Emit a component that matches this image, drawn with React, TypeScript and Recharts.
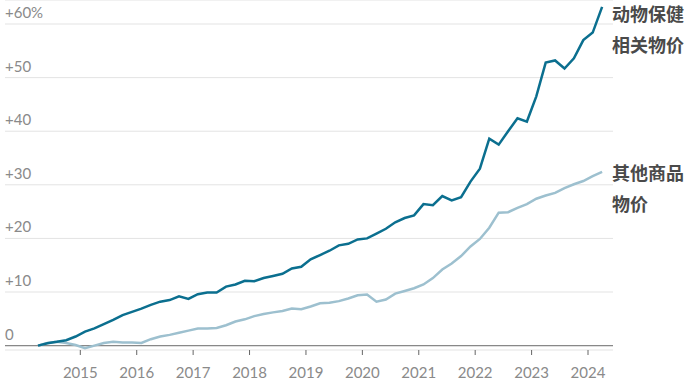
import { CartesianGrid, Line, LineChart, ReferenceLine, XAxis, YAxis } from 'recharts';

// bimonthly points, Apr 2014 .. Apr 2024
const dates = Array.from({ length: 61 }, (_, i) => {
  const m = 3 + i * 2; // months since Jan 2014
  return `${2014 + Math.floor(m / 12)}-${String((m % 12) + 1).padStart(2, '0')}`;
});

const petPrices = [
  0.0, 0.45, 0.7, 1.0, 1.7, 2.6, 3.2, 4.0, 4.8, 5.7, 6.3, 6.9,
  7.6, 8.2, 8.5, 9.2, 8.7, 9.6, 9.9, 9.9, 11.0, 11.4, 12.1, 12.0,
  12.6, 13.0, 13.4, 14.4, 14.7, 16.1, 16.9, 17.7, 18.7, 19.0, 19.8, 20.0,
  20.9, 21.8, 23.0, 23.8, 24.3, 26.4, 26.2, 27.9, 27.1, 27.7, 30.6, 33.0,
  38.6, 37.5, 40.0, 42.4, 41.8, 46.5, 52.8, 53.2, 51.7, 53.6, 57.0, 58.4,
  63.2,
];

const otherPrices = [
  0.0, 0.5, 0.7, 0.5, 0.1, -0.5, 0.0, 0.5, 0.7, 0.6, 0.6, 0.5,
  1.2, 1.7, 2.0, 2.4, 2.8, 3.2, 3.2, 3.3, 3.8, 4.5, 4.9, 5.5,
  5.9, 6.2, 6.45, 6.9, 6.8, 7.3, 7.9, 8.0, 8.3, 8.8, 9.4, 9.55,
  8.2, 8.6, 9.7, 10.2, 10.7, 11.4, 12.6, 14.2, 15.3, 16.7, 18.5, 19.9,
  22.0, 24.8, 24.9, 25.7, 26.4, 27.4, 28.0, 28.5, 29.4, 30.1, 30.7, 31.6,
  32.4,
];

const yearTicks = [2015, 2016, 2017, 2018, 2019, 2020, 2021, 2022, 2023, 2024];
const yTicks = [0, 10, 20, 30, 40, 50, 60];
const yLabels = ['0', '+10', '+20', '+30', '+40', '+50', '+60%'];

const data = dates.map((d, i) => {
  const [y, m] = d.split('-').map(Number);
  return { t: y + (m - 1) / 12, pet: petPrices[i], other: otherPrices[i] };
});

const labelFont = 'Lato, "Noto Sans", sans-serif';

function YTick(p: any) {
  const v = p.payload?.value;
  return (
    <text x={5} y={p.y - 6} fill="#8a8a8a" fontSize={15} fontFamily={labelFont} textAnchor="start">
      {yLabels[yTicks.indexOf(v)]}
    </text>
  );
}

export default function App() {
  return (
    <div style={{ position: 'absolute', left: 0, top: 0, width: 693, height: 391, background: '#fff' }}>
      <LineChart width={693} height={391} data={data} margin={{ top: 0, right: 80, left: 4, bottom: 0 }}>
        <CartesianGrid vertical={false} stroke="#e3e3e3" />
        <XAxis
          dataKey="t"
          type="number"
          domain={[2013.665, 2024.443]}
          allowDataOverflow
          ticks={yearTicks}
          height={41}
          axisLine={false}
          tickLine={{ stroke: '#666' }}
          tickSize={5}
          tickMargin={12}
          tick={{ fill: '#8a8a8a', fontSize: 15, fontFamily: labelFont }}
        />
        <YAxis
          width={1}
          type="number"
          domain={[-0.82, 64.48]}
          allowDataOverflow
          ticks={yTicks}
          interval={0}
          axisLine={false}
          tickLine={false}
          tick={<YTick />}
        />
        <ReferenceLine y={0} stroke="#888" strokeWidth={1.2} />
        <Line
          type="linear"
          dataKey="other"
          stroke="#9dc0cf"
          strokeWidth={2.5}
          dot={false}
          isAnimationActive={false}
        />
        <Line
          type="linear"
          dataKey="pet"
          stroke="#0b6f8f"
          strokeWidth={2.5}
          dot={false}
          isAnimationActive={false}
        />
      </LineChart>
      <div
        style={{
          position: 'absolute',
          left: 612,
          top: -2,
          fontFamily: '"Noto Sans CJK SC", sans-serif',
          fontWeight: 700,
          fontSize: 18,
          lineHeight: '31px',
          color: '#4a4a4a',
        }}
      >
        动物保健
        <br />
        相关物价
      </div>
      <div
        style={{
          position: 'absolute',
          left: 612,
          top: 157,
          fontFamily: '"Noto Sans CJK SC", sans-serif',
          fontWeight: 700,
          fontSize: 18,
          lineHeight: '31px',
          color: '#4a4a4a',
        }}
      >
        其他商品
        <br />
        物价
      </div>
    </div>
  );
}
